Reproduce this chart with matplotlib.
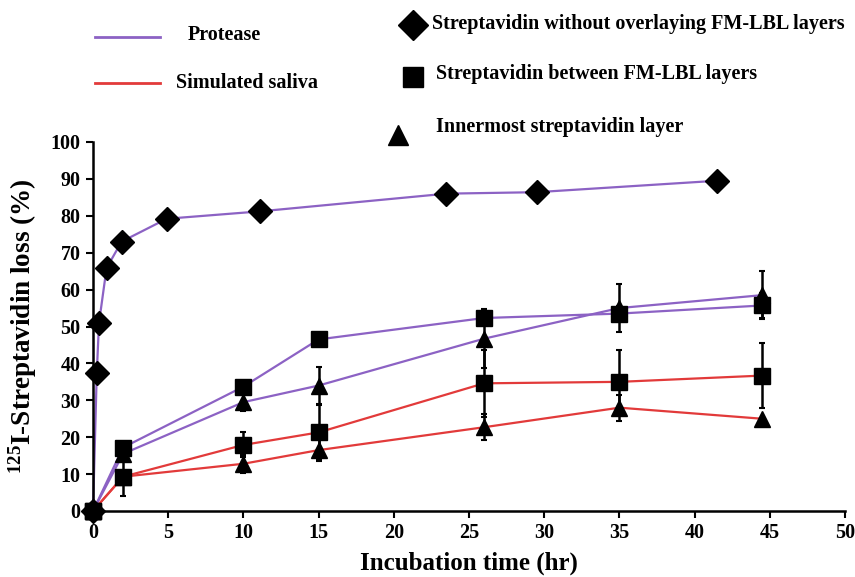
import matplotlib
matplotlib.use("Agg")
import matplotlib.pyplot as plt
from matplotlib.lines import Line2D

plt.rcParams['font.family'] = ['Liberation Serif', 'DejaVu Serif']
plt.rcParams['font.weight'] = 'bold'
plt.rcParams['mathtext.fontset'] = 'custom'
plt.rcParams['mathtext.rm'] = 'Liberation Serif:bold'
plt.rcParams['mathtext.it'] = 'Liberation Serif:bold'
plt.rcParams['mathtext.bf'] = 'Liberation Serif:bold'

# ---- data ----
t_diamond = [0, 0.25, 0.4, 0.9, 1.9, 4.9, 11.1, 23.5, 29.5, 41.5]
prot_diamond = [0, 37.3, 51.0, 65.8, 73.0, 79.2, 81.2, 86.0, 86.4, 89.5]

t_layer = [0, 2, 10, 15, 26, 35, 44.5]
prot_square = [0, 17.2, 33.7, 46.5, 52.3, 53.5, 55.7]
prot_square_err = [0, 0, 0, 0, 1.5, 2.0, 3.5]
prot_tri = [0, 15.5, 29.5, 34.0, 46.7, 55.0, 58.5]
prot_tri_err = [0, 0, 2.5, 5.0, 8.0, 6.5, 6.5]
sal_square = [0, 9.3, 17.9, 21.3, 34.6, 35.0, 36.7]
sal_square_err = [0, 5.2, 3.4, 7.5, 9.0, 8.5, 8.8]
sal_tri = [0, 9.3, 12.8, 16.5, 22.7, 28.0, 25.0]
sal_tri_err = [0, 0, 2.4, 3.0, 3.5, 3.5, 0]

x_ticks = [0, 5, 10, 15, 20, 25, 30, 35, 40, 45, 50]
y_ticks = [0, 10, 20, 30, 40, 50, 60, 70, 80, 90, 100]

PURPLE = '#8c62c4'
RED = '#e23a3a'

fig = plt.figure(figsize=(8.55, 5.77), dpi=100)
ax = fig.add_axes([93/855, 66/577, (845-93)/855, (435-66)/577])

lw = 1.6
ax.plot(t_diamond, prot_diamond, color=PURPLE, lw=lw, zorder=2)
ax.plot(t_layer, prot_square, color=PURPLE, lw=lw, zorder=2)
ax.plot(t_layer, prot_tri, color=PURPLE, lw=lw, zorder=2)
ax.plot(t_layer, sal_square, color=RED, lw=lw, zorder=2)
ax.plot(t_layer, sal_tri, color=RED, lw=lw, zorder=2)

ekw = dict(ls='none', color='black', ecolor='black', elinewidth=1.8, capsize=2, capthick=1.5, zorder=3)
ax.errorbar(t_layer, sal_tri, yerr=sal_tri_err, fmt='^', ms=11, **ekw)
ax.errorbar(t_layer, sal_square, yerr=sal_square_err, fmt='s', ms=11, **ekw)
ax.errorbar(t_layer, prot_tri, yerr=prot_tri_err, fmt='^', ms=11, **ekw)
ax.errorbar(t_layer, prot_square, yerr=prot_square_err, fmt='s', ms=11, **ekw)
ax.plot(t_diamond, prot_diamond, ls='none', marker='D', ms=12, color='black', zorder=4)

ax.set_xlim(0, 50)
ax.set_ylim(0, 100)
ax.set_xticks(x_ticks)
ax.set_yticks(y_ticks)
ax.spines['top'].set_visible(False)
ax.spines['right'].set_visible(False)
for s in ['left', 'bottom']:
    ax.spines[s].set_linewidth(1.8)
ax.tick_params(axis='both', direction='out', length=5, width=1.5, labelsize=14.5, pad=4)
for lab in ax.get_xticklabels() + ax.get_yticklabels():
    lab.set_fontweight('bold')
for art in ax.lines + ax.collections:
    art.set_clip_on(False)

ax.set_xlabel('Incubation time (hr)', fontsize=18, fontweight='bold', labelpad=6)
ax.set_ylabel(r'$^{125}$I-Streptavidin loss (%)', fontsize=19.5, fontweight='bold', labelpad=8)

# ---- legend (top) ----
def fx(px):
    return px / 855
def fy(py):
    return 1 - py / 577

FS = 14.5
fig.add_artist(Line2D([fx(95), fx(160)], [fy(37), fy(37)], color=PURPLE, lw=2))
fig.add_artist(Line2D([fx(95), fx(160)], [fy(83), fy(83)], color=RED, lw=2))
fig.text(fx(188), fy(35), 'Protease', fontsize=FS, fontweight='bold', va='center', ha='left')
fig.text(fx(176), fy(83), 'Simulated saliva', fontsize=FS, fontweight='bold', va='center', ha='left')

fig.add_artist(Line2D([fx(413)], [fy(25)], marker='D', ms=15, color='black', ls='none'))
fig.add_artist(Line2D([fx(413)], [fy(77)], marker='s', ms=15, color='black', ls='none'))
fig.add_artist(Line2D([fx(398)], [fy(135)], marker='^', ms=15, color='black', ls='none'))
fig.text(fx(432), fy(24), 'Streptavidin without overlaying FM-LBL layers', fontsize=FS, fontweight='bold', va='center', ha='left')
fig.text(fx(436), fy(74), 'Streptavidin between FM-LBL layers', fontsize=FS, fontweight='bold', va='center', ha='left')
fig.text(fx(436), fy(127), 'Innermost streptavidin layer', fontsize=FS, fontweight='bold', va='center', ha='left')

fig.savefig('out.png', dpi=100)
